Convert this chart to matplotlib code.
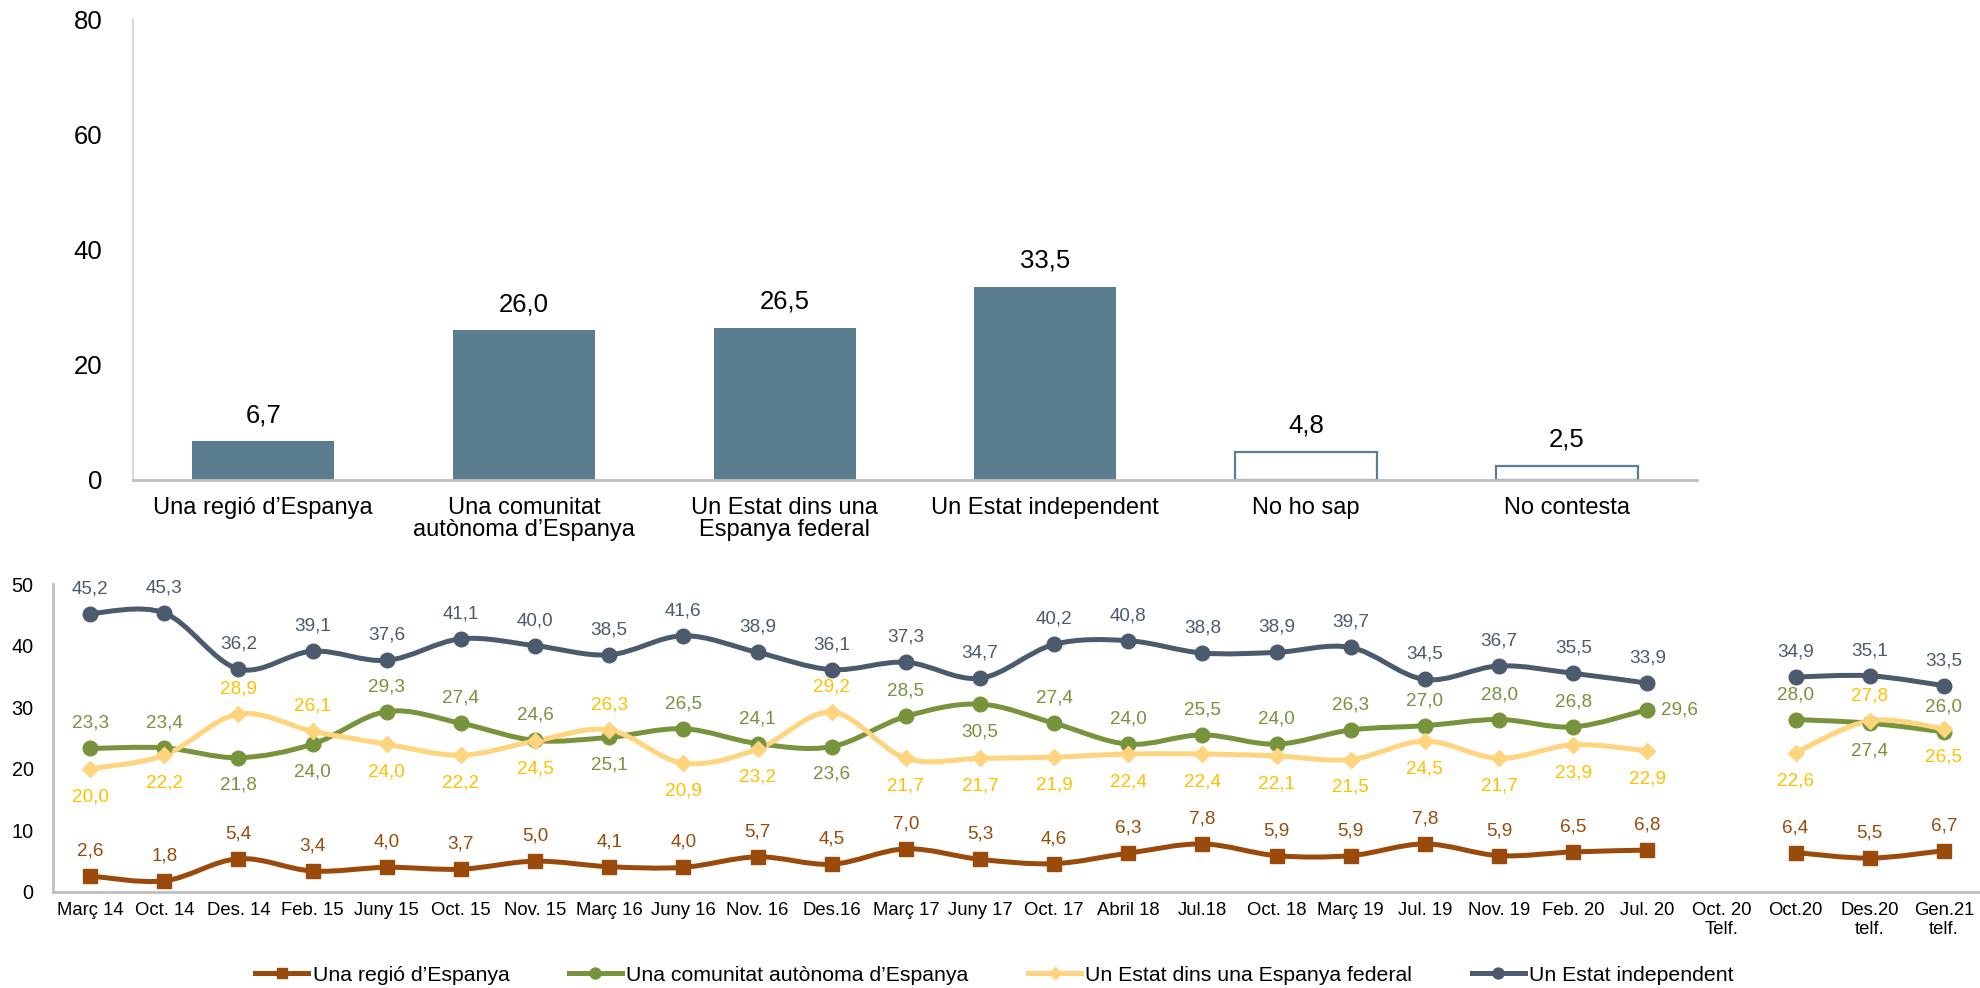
import matplotlib
matplotlib.use("Agg")
import matplotlib.pyplot as plt
import numpy as np
from matplotlib.path import Path
from matplotlib.patches import PathPatch
from matplotlib.lines import Line2D

plt.rcParams['font.family'] = ['Liberation Sans', 'DejaVu Sans']

# top chart: current wave
bar_labels = ["Una regió d’Espanya", "Una comunitat\nautònoma d’Espanya",
              "Un Estat dins una\nEspanya federal", "Un Estat independent",
              "No ho sap", "No contesta"]
bar_values = [6.7, 26.0, 26.5, 33.5, 4.8, 2.5]
bar_filled = [True, True, True, True, False, False]

# bottom chart: evolution
waves = ["Març 14", "Oct. 14", "Des. 14", "Feb. 15", "Juny 15", "Oct. 15", "Nov. 15",
         "Març 16", "Juny 16", "Nov. 16", "Des.16", "Març 17", "Juny 17", "Oct. 17",
         "Abril 18", "Jul.18", "Oct. 18", "Març 19", "Jul. 19", "Nov. 19", "Feb. 20",
         "Jul. 20", "Oct. 20\nTelf.", "Oct.20", "Des.20\ntelf.", "Gen.21\ntelf."]

regio = [2.6, 1.8, 5.4, 3.4, 4.0, 3.7, 5.0, 4.1, 4.0, 5.7, 4.5, 7.0, 5.3, 4.6, 6.3,
         7.8, 5.9, 5.9, 7.8, 5.9, 6.5, 6.8, None, 6.4, 5.5, 6.7]
comunitat = [23.3, 23.4, 21.8, 24.0, 29.3, 27.4, 24.6, 25.1, 26.5, 24.1, 23.6, 28.5,
             30.5, 27.4, 24.0, 25.5, 24.0, 26.3, 27.0, 28.0, 26.8, 29.6, None, 28.0,
             27.4, 26.0]
federal = [20.0, 22.2, 28.9, 26.1, 24.0, 22.2, 24.5, 26.3, 20.9, 23.2, 29.2, 21.7,
           21.7, 21.9, 22.4, 22.4, 22.1, 21.5, 24.5, 21.7, 23.9, 22.9, None, 22.6,
           27.8, 26.5]
independent = [45.2, 45.3, 36.2, 39.1, 37.6, 41.1, 40.0, 38.5, 41.6, 38.9, 36.1, 37.3,
               34.7, 40.2, 40.8, 38.8, 38.9, 39.7, 34.5, 36.7, 35.5, 33.9, None, 34.9,
               35.1, 33.5]

# where each data label sits: a=above, b=below, r=right
pos_regio = "a" * 26
pos_comunitat = "aabbaaabaababaaaaaaaar" + "-" + "aba"
pos_federal = "bbaabbbabbabbbbbbbbbbb" + "-" + "bab"
pos_independent = "a" * 26

BAR_COLOR = "#5B7D90"
AXIS_GRAY = "#BFBFBF"


def fmt(v):
    return f"{v:.1f}".replace(".", ",")


def smooth_segment(ax, xs, ys, color, lw):
    # Excel-like smoothed line through the points (cubic bezier)
    pts = np.column_stack([xs, ys]).astype(float)
    n = len(pts)
    verts = [pts[0]]
    codes = [Path.MOVETO]
    for i in range(n - 1):
        p0 = pts[i - 1] if i > 0 else pts[i]
        p1 = pts[i]
        p2 = pts[i + 1]
        p3 = pts[i + 2] if i + 2 < n else pts[i + 1]
        verts += [p1 + (p2 - p0) / 6, p2 - (p3 - p1) / 6, p2]
        codes += [Path.CURVE4] * 3
    ax.add_patch(PathPatch(Path(verts, codes), fill=False, edgecolor=color,
                           lw=lw, capstyle='round', joinstyle='round', zorder=2))


def draw_series(ax, vals, positions, line_color, text_color, marker, ms):
    x = np.arange(len(vals))
    seg_x, seg_y = [], []
    for i, v in enumerate(vals + [None]):
        if v is None:
            if len(seg_x) > 1:
                smooth_segment(ax, seg_x, seg_y, line_color, 3.6)
            seg_x, seg_y = [], []
        else:
            seg_x.append(i)
            seg_y.append(v)
    xs = [i for i, v in enumerate(vals) if v is not None]
    ys = [v for v in vals if v is not None]
    ax.plot(xs, ys, linestyle='none', marker=marker, ms=ms, color=line_color, zorder=3)
    for i, v in enumerate(vals):
        if v is None:
            continue
        p = positions[i]
        if p == "a":
            off, ha = (0, 18), "center"
        elif p == "b":
            off, ha = (0, -20), "center"
        else:
            off, ha = (10, 0), "left"
        ax.annotate(fmt(v), (x[i], v), xytext=off, textcoords="offset points",
                    ha=ha, va="center", fontsize=13.6, color=text_color)


fig = plt.figure(figsize=(19.81, 9.88), dpi=100)

# ---- top: bar chart
ax1 = fig.add_axes([0.0671, 0.5142, 0.7895, 0.4656])
xb = np.arange(len(bar_values))
for i, (v, filled) in enumerate(zip(bar_values, bar_filled)):
    if filled:
        ax1.bar(xb[i], v, width=0.545, color=BAR_COLOR, zorder=2)
    else:
        ax1.bar(xb[i], v, width=0.545, facecolor="white", edgecolor=BAR_COLOR,
                lw=1.6, zorder=2)
    ax1.annotate(fmt(v), (xb[i], v), xytext=(0, 19), textcoords="offset points",
                 ha="center", va="center", fontsize=18.5)
ax1.set_xlim(-0.5, 5.5)
ax1.set_ylim(0, 80)
ax1.set_yticks([0, 20, 40, 60, 80])
ax1.set_xticks(xb)
ax1.set_xticklabels(bar_labels, fontsize=17, linespacing=1.05)
ax1.tick_params(axis='y', labelsize=18.5, length=0, pad=22)
ax1.tick_params(axis='x', length=0, pad=12)
for s in ("top", "right"):
    ax1.spines[s].set_visible(False)
ax1.spines["left"].set_color("#D9D9D9")
ax1.spines["left"].set_linewidth(1.5)
ax1.spines["bottom"].set_color(AXIS_GRAY)
ax1.spines["bottom"].set_linewidth(2)

# ---- bottom: evolution lines
ax2 = fig.add_axes([0.0268, 0.0972, 0.9732, 0.3117])
ax2.set_xlim(-0.5, len(waves) - 0.5)
ax2.set_ylim(0, 50)

series = [
    (regio, pos_regio, "#9A4A0B", "#9A4A0B", "s", 10, "Una regió d’Espanya"),
    (comunitat, pos_comunitat, "#77933C", "#77933C", "o", 10.5, "Una comunitat autònoma d’Espanya"),
    (federal, pos_federal, "#FFD47F", "#FFC000", "D", 8.5, "Un Estat dins una Espanya federal"),
    (independent, pos_independent, "#4B5B6D", "#4B5B6D", "o", 10.5, "Un Estat independent"),
]
handles = []
for vals, pos, lc, tc, mk, ms, name in series:
    draw_series(ax2, vals, pos, lc, tc, mk, ms)
    handles.append(Line2D([], [], color=lc, lw=3.6, marker=mk, ms=ms * 0.75, label=name))

ax2.set_yticks([0, 10, 20, 30, 40, 50])
ax2.set_xticks(np.arange(len(waves)))
ax2.set_xticklabels(waves, fontsize=13.3, linespacing=1.15, va="top")
ax2.tick_params(axis='y', labelsize=14.3, length=0, pad=14)
ax2.tick_params(axis='x', length=0, pad=7)
for s in ("top", "right"):
    ax2.spines[s].set_visible(False)
for s in ("left", "bottom"):
    ax2.spines[s].set_color(AXIS_GRAY)
    ax2.spines[s].set_linewidth(2)

fig.legend(handles=handles, loc="center", bbox_to_anchor=(0.502, 0.013), ncol=4,
           frameon=False, fontsize=15.3, handlelength=2.5, handletextpad=0.2,
           columnspacing=2.8, borderpad=0.1)

fig.savefig("out.png", dpi=100)
